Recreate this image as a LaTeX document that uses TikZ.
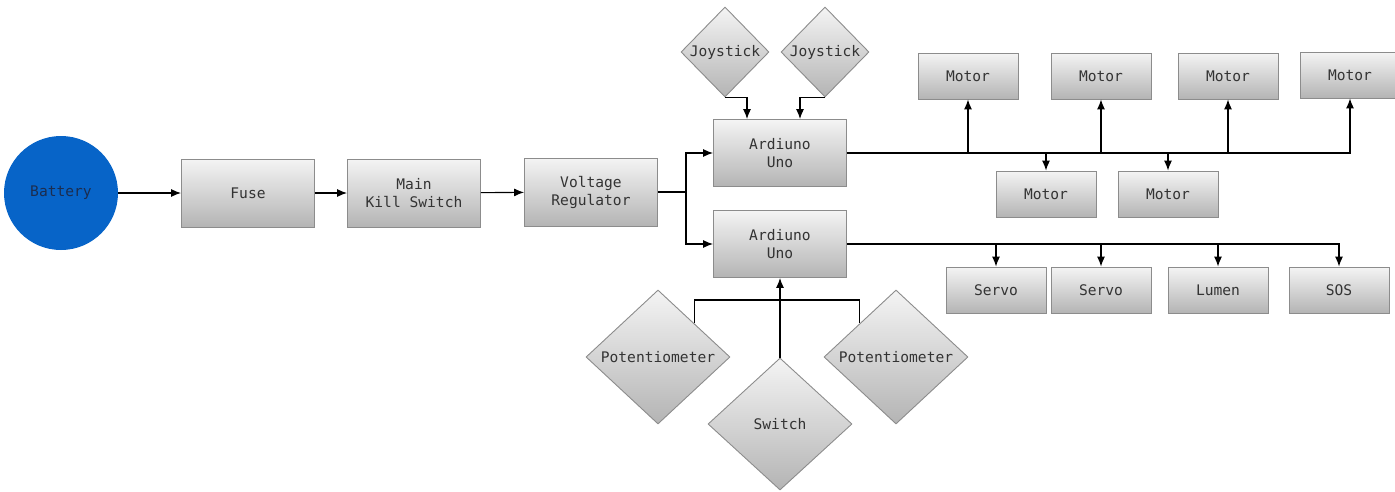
\documentclass[tikz,border=0pt]{standalone}
\usepackage{fontspec}
\setmainfont{DejaVu Sans Mono}
\usetikzlibrary{shapes.geometric,arrows.meta}
\definecolor{batblue}{HTML}{0764C8}
\definecolor{battext}{HTML}{1C2D4F}
\definecolor{boxedge}{HTML}{8C8C8C}
\definecolor{boxtop}{HTML}{F4F4F4}
\definecolor{boxbot}{HTML}{B4B4B4}
\definecolor{labeltext}{HTML}{333333}

\begin{document}
\begin{tikzpicture}[x=1pt, y=-1pt, >={Latex[length=10pt,width=8pt]},
    every node/.style={font=\fontsize{14.6}{18}\selectfont, text=labeltext, align=center},
    block/.style={rectangle, draw=boxedge, line width=0.9pt, top color=boxtop, bottom color=boxbot,
                  minimum width=133pt, minimum height=68pt, inner sep=0pt},
    smallblock/.style={block, minimum width=100pt, minimum height=46pt},
    sensor/.style={diamond, draw=boxedge, line width=0.9pt, top color=boxtop, bottom color=boxbot,
                   inner sep=0pt, minimum width=144pt, minimum height=134pt},
    wire/.style={line width=1.1pt, black}]
    \useasboundingbox (0,0) rectangle (1395,491);

    % 1. Nguồn và chuỗi cấp điện
    \node[circle, fill=batblue, minimum size=114pt, inner sep=0pt, text=battext] (bat) at (61,193) {Battery};
    \node[block] (fuse) at (248,193) {Fuse};
    \node[block] (kill) at (414,193) {Main\\Kill Switch};
    \node[block] (vreg) at (591,192) {Voltage\\Regulator};

    % 2. Hai bo Arduino
    \node[block, minimum height=67pt] (unoA) at (780,153) {Ardiuno\\Uno};
    \node[block, minimum height=67pt] (unoB) at (780,244) {Ardiuno\\Uno};

    % 3. Joystick
    \node[sensor, minimum width=88pt, minimum height=90pt] (joyA) at (725,52) {Joystick};
    \node[sensor, minimum width=88pt, minimum height=90pt] (joyB) at (825,52) {Joystick};

    % 4. Motor
    \node[smallblock] (motA) at (968,76) {Motor};
    \node[smallblock] (motB) at (1101,76) {Motor};
    \node[smallblock] (motC) at (1228,76) {Motor};
    \node[smallblock] (motD) at (1350,75) {Motor};
    \node[smallblock] (motE) at (1046,194) {Motor};
    \node[smallblock] (motF) at (1168,194) {Motor};

    % 5. Servo, Lumen, SOS
    \node[smallblock] (srvA) at (996,290) {Servo};
    \node[smallblock] (srvB) at (1101,290) {Servo};
    \node[smallblock] (lum) at (1218,290) {Lumen};
    \node[smallblock] (sos) at (1339,290) {SOS};

    % 6. Potentiometer va Switch
    \node[sensor] (potA) at (658,357) {Potentiometer};
    \node[sensor, minimum height=132pt] (sw) at (780,424) {Switch};
    \node[sensor] (potB) at (896,357) {Potentiometer};

    % 7. Day noi
    \coordinate (split) at (686,192);
    \coordinate (join) at (780,300);
    \draw[wire, ->] (bat) -- (fuse);
    \draw[wire, ->] (fuse) -- (kill);
    \draw[wire, ->] (kill) -- (vreg);
    \draw[wire] (vreg) -- (split);
    \draw[wire, ->] (split) |- (unoA);
    \draw[wire, ->] (split) |- (unoB);
    \draw[wire, ->] (joyA.south) -| ([xshift=-33pt]unoA.north);
    \draw[wire, ->] (joyB.south) -| ([xshift=20pt]unoA.north);

    \draw[wire, ->] (unoA) -| (motD);
    \foreach \m in {motA, motB, motC}
        \draw[wire, ->] (\m |- unoA) -- (\m);
    \foreach \m in {motE, motF}
        \draw[wire, ->] (\m |- unoA) -- (\m);

    \draw[wire, ->] (unoB) -| (sos);
    \foreach \m in {srvA, srvB, lum}
        \draw[wire, ->] (\m |- unoB) -- (\m);

    \draw[wire, ->] (sw.north) -- (unoB.south);
    \draw[wire] (potA.north east) |- (join) -| (potB.north west);
\end{tikzpicture}
\end{document}
